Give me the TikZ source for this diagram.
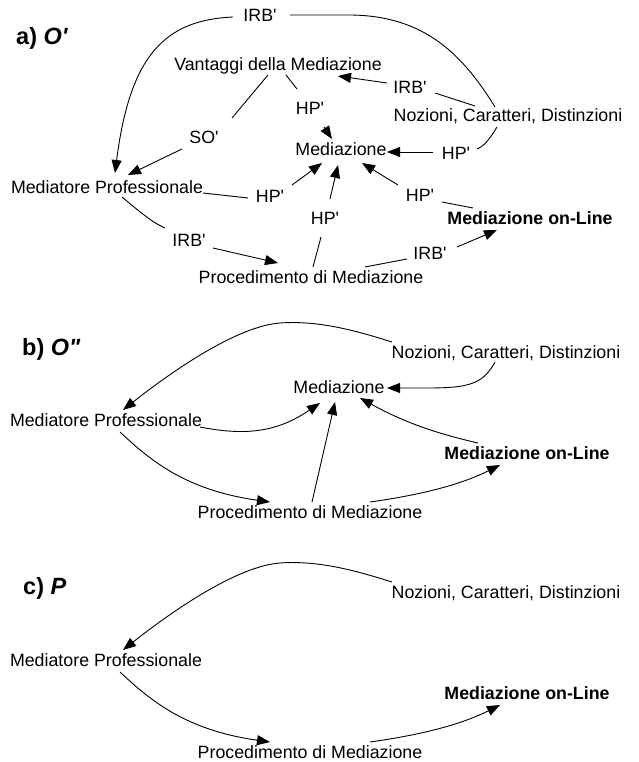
\documentclass[tikz,border=0pt]{standalone}
\usepackage{fontspec}
\setmainfont{Liberation Sans}
\usetikzlibrary{arrows.meta,calc}
\newcommand{\apo}{\textquotesingle}
\begin{document}
\begin{tikzpicture}[x=1pt,y=-1pt,
  lbl/.style={inner sep=0pt, text height=12.6pt, text depth=0pt, font=\fontsize{17.8}{20}\selectfont},
  blbl/.style={lbl, font=\fontsize{17.8}{20}\selectfont\bfseries},
  ttl/.style={inner sep=0pt, anchor=west, text height=17pt, text depth=0pt, font=\fontsize{23.5}{26}\selectfont\bfseries},
  ln/.style={line width=0.9pt},
  ar/.style={line width=0.9pt, -{Triangle[length=13pt,width=10pt]}}]
\useasboundingbox (0,0) rectangle (639,762);

% ---------------- panel a ----------------
\node[ttl] (ta) at (16,36) {a) \textit{O\apo}};
\node[lbl] (irbT) at (260,15) {IRB\apo};
\node[lbl] (vant) at (278,64) {Vantaggi della Mediazione};
\node[lbl] (irbR) at (410,87) {IRB\apo};
\node[lbl] (noz) at (508,115) {Nozioni, Caratteri, Distinzioni};
\node[lbl] (hpV) at (310,108) {HP\apo};
\node[lbl] (so) at (204,137) {SO\apo};
\node[lbl] (med) at (341,149) {Mediazione};
\node[lbl] (hpR) at (456,153) {HP\apo};
\node[lbl] (mp) at (107,187) {Mediatore Professionale};
\node[lbl] (hpL) at (270,196) {HP\apo};
\node[lbl] (hpLR) at (420,195) {HP\apo};
\node[lbl] (hpC) at (325,218) {HP\apo};
\node[blbl] (onl) at (530,218) {Mediazione on-Line};
\node[lbl] (irbLL) at (189,240) {IRB\apo};
\node[lbl] (irbLR) at (430,253) {IRB\apo};
\node[lbl] (proc) at (311,277) {Procedimento di Mediazione};

\draw[ln] ($(noz)+(-13,-8)$) .. controls (460,50) and (420,14) .. ($(irbT)+(85,0)$) -- ($(irbT)+(30,0)$);
\draw[ar] ($(irbT)+(-27,2)$) .. controls (165,20) and (130,55) .. ($(mp)+(8,-14)$);
\draw[ln] ($(noz)+(-33,-9)$) -- ($(irbR)+(25,6)$);
\draw[ar] ($(irbR)+(-23,-4)$) -- ($(vant)+(60,12)$);
\draw[ln] ($(vant)+(-10,11)$) -- ($(so)+(28,-19)$);
\draw[ar] ($(so)+(-22,12)$) -- ($(mp)+(21,-12)$);
\draw[ln] ($(vant)+(8,11)$) -- ($(hpV)+(-13,-19)$);
\draw[ar] ($(hpV)+(14,19)$) -- ($(med)+(-9,-10)$);
\draw[ln] ($(noz)+(-11,12)$) .. controls (489,140) and (484,146) .. ($(hpR)+(21,-4)$);
\draw[ar] ($(hpR)+(-23,-1)$) -- ($(med)+(46,3)$);
\draw[ln] ($(mp)+(96,6)$) -- ($(hpL)+(-22,2)$);
\draw[ar] ($(hpL)+(22,-11)$) -- ($(med)+(-19,14)$);
\draw[ln] ($(proc)+(2,-10)$) -- ($(hpC)+(-4,19)$);
\draw[ar] ($(hpC)+(5,-19)$) -- ($(med)+(-3,16)$);
\draw[ln] ($(onl)+(-57,-10)$) -- ($(hpLR)+(22,7)$);
\draw[ar] ($(hpLR)+(-22,-10)$) -- ($(med)+(21,14)$);
\draw[ln] ($(mp)+(15,10)$) .. controls (140,212) and (153,223) .. ($(irbLL)+(-24,-12)$);
\draw[ar] ($(irbLL)+(24,8)$) -- ($(proc)+(-33,-14)$);
\draw[ln] ($(proc)+(54,-10)$) -- ($(irbLR)+(-23,6)$);
\draw[ar] ($(irbLR)+(27,-6)$) -- ($(onl)+(-33,12)$);

% ---------------- panel b ----------------
\node[ttl] (tb) at (22,347) {b) \textit{O\textquotedbl}};
\node[lbl] (nozB) at (506,352) {Nozioni, Caratteri, Distinzioni};
\node[lbl] (medB) at (339,387) {Mediazione};
\node[lbl] (mpB) at (106,420) {Mediatore Professionale};
\node[blbl] (onlB) at (527,453) {Mediazione on-Line};
\node[lbl] (procB) at (310,512) {Procedimento di Mediazione};

\draw[ar] ($(nozB)+(-114,-10)$) .. controls (360,332) and (320,320) .. (280,323) .. controls (240,326) and (180,365) .. ($(mpB)+(17,-10)$);
\draw[ar] ($(nozB)+(-11,10)$) .. controls (480,390) and (460,388) .. ($(medB)+(48,1)$);
\draw[ar] ($(mpB)+(94,7)$) .. controls (250,437) and (280,430) .. ($(medB)+(-19,16)$);
\draw[ar] ($(procB)+(2,-10)$) -- ($(medB)+(-4,15)$);
\draw[ar] ($(onlB)+(-49,-10)$) .. controls (430,432) and (400,420) .. ($(medB)+(21,11)$);
\draw[ar] ($(mpB)+(14,12)$) .. controls (150,460) and (185,490) .. ($(procB)+(-40,-10)$);
\draw[ar] ($(procB)+(60,-10)$) .. controls (420,495) and (460,485) .. ($(onlB)+(-27,12)$);

% ---------------- panel c ----------------
\node[ttl] (tc) at (23,586) {c) \textit{P}};
\node[lbl] (nozC) at (506,592) {Nozioni, Caratteri, Distinzioni};
\node[lbl] (mpC) at (106,660) {Mediatore Professionale};
\node[blbl] (onlC) at (527,693) {Mediazione on-Line};
\node[lbl] (procC) at (310,752) {Procedimento di Mediazione};

\draw[ar] ($(nozC)+(-114,-10)$) .. controls (360,572) and (320,560) .. (280,563) .. controls (240,566) and (180,605) .. ($(mpC)+(17,-10)$);
\draw[ar] ($(mpC)+(14,12)$) .. controls (150,700) and (185,730) .. ($(procC)+(-40,-10)$);
\draw[ar] ($(procC)+(60,-10)$) .. controls (420,735) and (460,725) .. ($(onlC)+(-27,12)$);
\end{tikzpicture}
\end{document}
